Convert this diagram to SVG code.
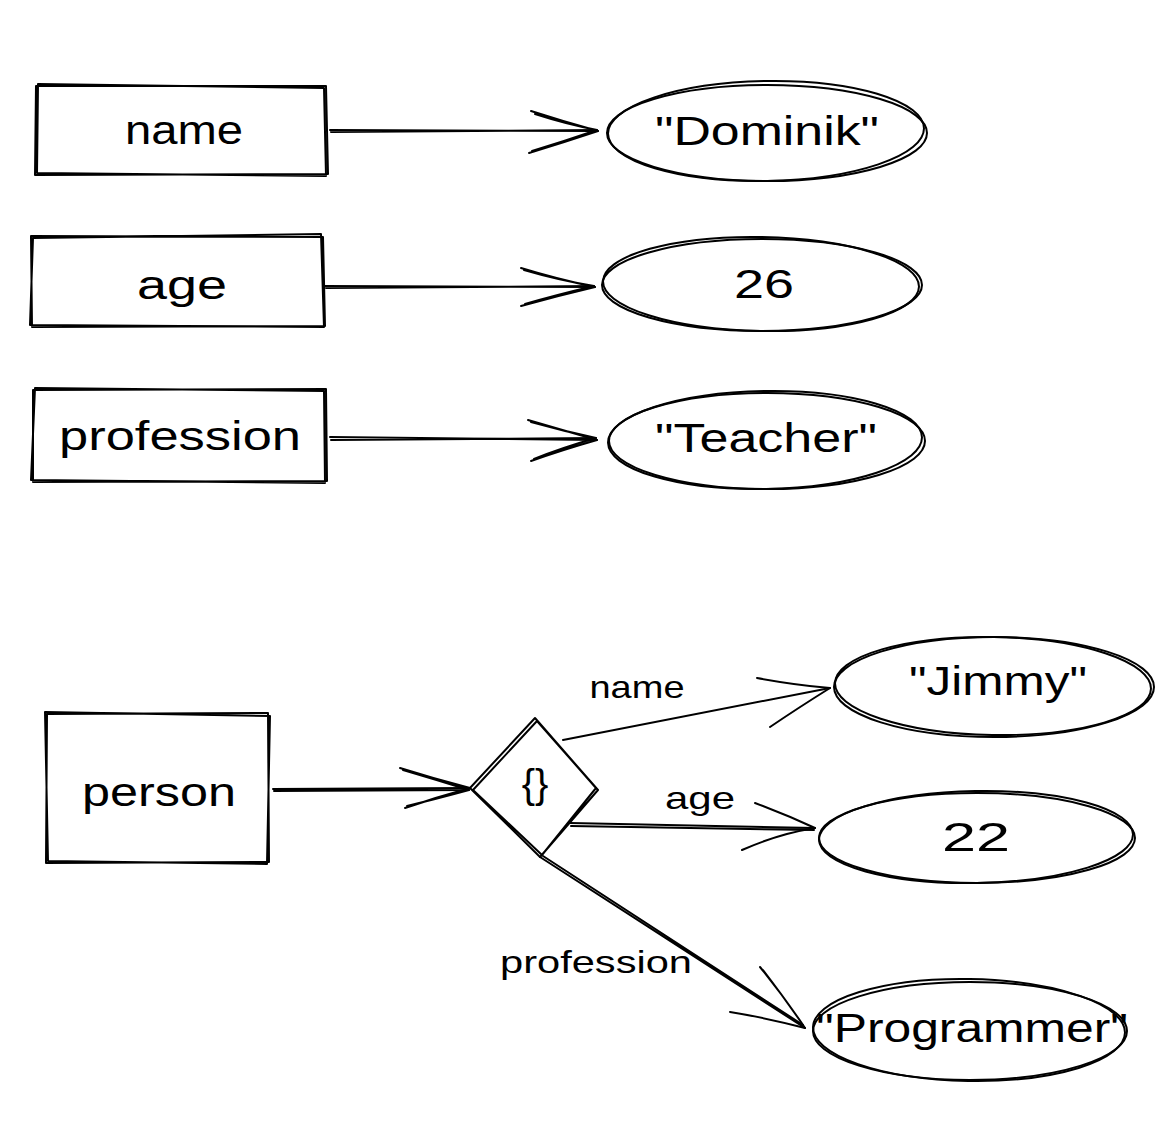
<svg xmlns="http://www.w3.org/2000/svg" width="1158" height="1132" viewBox="0 0 1158 1132">
<style>
.s{fill:none;stroke:#000;stroke-width:2;stroke-linecap:round;stroke-linejoin:round}
.t{font-family:"Liberation Sans","DejaVu Sans",sans-serif;fill:#000;text-anchor:middle;dominant-baseline:central}
.big{font-size:40px}
.lbl{font-size:32px}
</style>
<rect width="1158" height="1132" fill="#fff"/>
<g id="connectors">
  <path class="s" d="M330 130 L598 131 M331 132 L597 130"/>
  <path class="s" d="M531 111 Q565 122 598 131 Q565 142 529 153 M535 114 Q566 124 597 130 Q565 141 532 151"/>
  <path class="s" d="M325 286 L595 287 M326 288 L594 286"/>
  <path class="s" d="M521 268 Q557 279 595 287 Q557 296 521 306 M524 270 Q558 280 594 286 Q556 295 525 304"/>
  <path class="s" d="M330 437 L597 440 M331 440 L596 438"/>
  <path class="s" d="M528 420 Q562 430 597 440 Q562 450 531 461 M531 422 Q563 431 596 438 Q561 448 534 459"/>
  <path class="s" d="M273 789 L470 788 M274 791 L469 790"/>
  <path class="s" d="M400 768 Q435 779 470 788 Q437 797 405 808 M403 770 Q437 780 469 790 Q436 799 407 806"/>
  <path class="s" d="M563 740 L830 688"/>
  <path class="s" d="M757 678 Q795 685 830 688 Q798 708 770 727"/>
  <path class="s" d="M570 823 L815 828 M571 826 L814 830"/>
  <path class="s" d="M755 803 Q787 815 815 828 Q778 834 742 850"/>
  <path class="s" d="M540 857 L805 1028 M543 856 L803 1025"/>
  <path class="s" d="M760 967 Q785 998 805 1028 Q767 1018 730 1012 M763 970 Q786 1000 803 1025"/>
  <text class="t lbl" x="637" y="687" textLength="95" lengthAdjust="spacingAndGlyphs">name</text>
  <text class="t lbl" x="700" y="798" textLength="70" lengthAdjust="spacingAndGlyphs">age</text>
  <text class="t lbl" x="596" y="962" textLength="192" lengthAdjust="spacingAndGlyphs">profession</text>
</g>
<g id="box-name">
  <path class="s" d="M36 86 L326 86 L328 174 L35 175 Z M38 84 L324 88 L326 176 L37 173 Z"/>
  <text class="t big" x="184" y="130" textLength="118" lengthAdjust="spacingAndGlyphs">name</text>
</g>
<g id="box-age">
  <path class="s" d="M31 236 L323 237 L325 326 L32 327 Z M33 238 L321 234 L324 327 L30 325 Z"/>
  <text class="t big" x="182" y="285" textLength="90" lengthAdjust="spacingAndGlyphs">age</text>
</g>
<g id="box-profession">
  <path class="s" d="M33 390 L326 389 L327 481 L33 482 Z M35 388 L324 391 L325 483 L31 480 Z"/>
  <text class="t big" x="180" y="436" textLength="242" lengthAdjust="spacingAndGlyphs">profession</text>
</g>
<g id="val-dominik">
  <ellipse class="s" cx="767" cy="133" rx="160" ry="48"/>
  <ellipse class="s" cx="766" cy="131" rx="158" ry="50" transform="rotate(-1 766 131)"/>
  <text class="t big" x="767" y="131" textLength="224" lengthAdjust="spacingAndGlyphs">"Dominik"</text>
</g>
<g id="val-26">
  <ellipse class="s" cx="762" cy="285" rx="160" ry="46"/>
  <ellipse class="s" cx="761" cy="284" rx="158" ry="47" transform="rotate(1 761 284)"/>
  <text class="t big" x="764" y="284" textLength="60" lengthAdjust="spacingAndGlyphs">26</text>
</g>
<g id="val-teacher">
  <ellipse class="s" cx="767" cy="441" rx="158" ry="48"/>
  <ellipse class="s" cx="765" cy="440" rx="157" ry="49" transform="rotate(-1 765 440)"/>
  <text class="t big" x="766" y="438" textLength="222" lengthAdjust="spacingAndGlyphs">"Teacher"</text>
</g>
<g id="box-person">
  <path class="s" d="M47 714 L268 713 L269 862 L46 863 Z M45 712 L270 716 L267 864 L48 861 Z"/>
  <text class="t big" x="159" y="792" textLength="154" lengthAdjust="spacingAndGlyphs">person</text>
</g>
<g id="diamond">
  <path class="s" d="M535 718 L598 790 L540 857 L470 788 Z M537 721 L596 788 L542 855 L473 790 Z"/>
  <text class="t big" x="535" y="784">{}</text>
</g>
<g id="val-jimmy">
  <ellipse class="s" cx="994" cy="687" rx="160" ry="50"/>
  <ellipse class="s" cx="993" cy="686" rx="158" ry="49" transform="rotate(1 993 686)"/>
  <text class="t big" x="998" y="681" textLength="178" lengthAdjust="spacingAndGlyphs">"Jimmy"</text>
</g>
<g id="val-22">
  <ellipse class="s" cx="977" cy="838" rx="158" ry="45"/>
  <ellipse class="s" cx="976" cy="837" rx="157" ry="46" transform="rotate(-1 976 837)"/>
  <text class="t big" x="976" y="837" textLength="68" lengthAdjust="spacingAndGlyphs">22</text>
</g>
<g id="val-programmer">
  <ellipse class="s" cx="970" cy="1031" rx="157" ry="49"/>
  <ellipse class="s" cx="969" cy="1030" rx="156" ry="51" transform="rotate(1 969 1030)"/>
  <text class="t big" x="972" y="1028" textLength="312" lengthAdjust="spacingAndGlyphs">"Programmer"</text>
</g>
</svg>
